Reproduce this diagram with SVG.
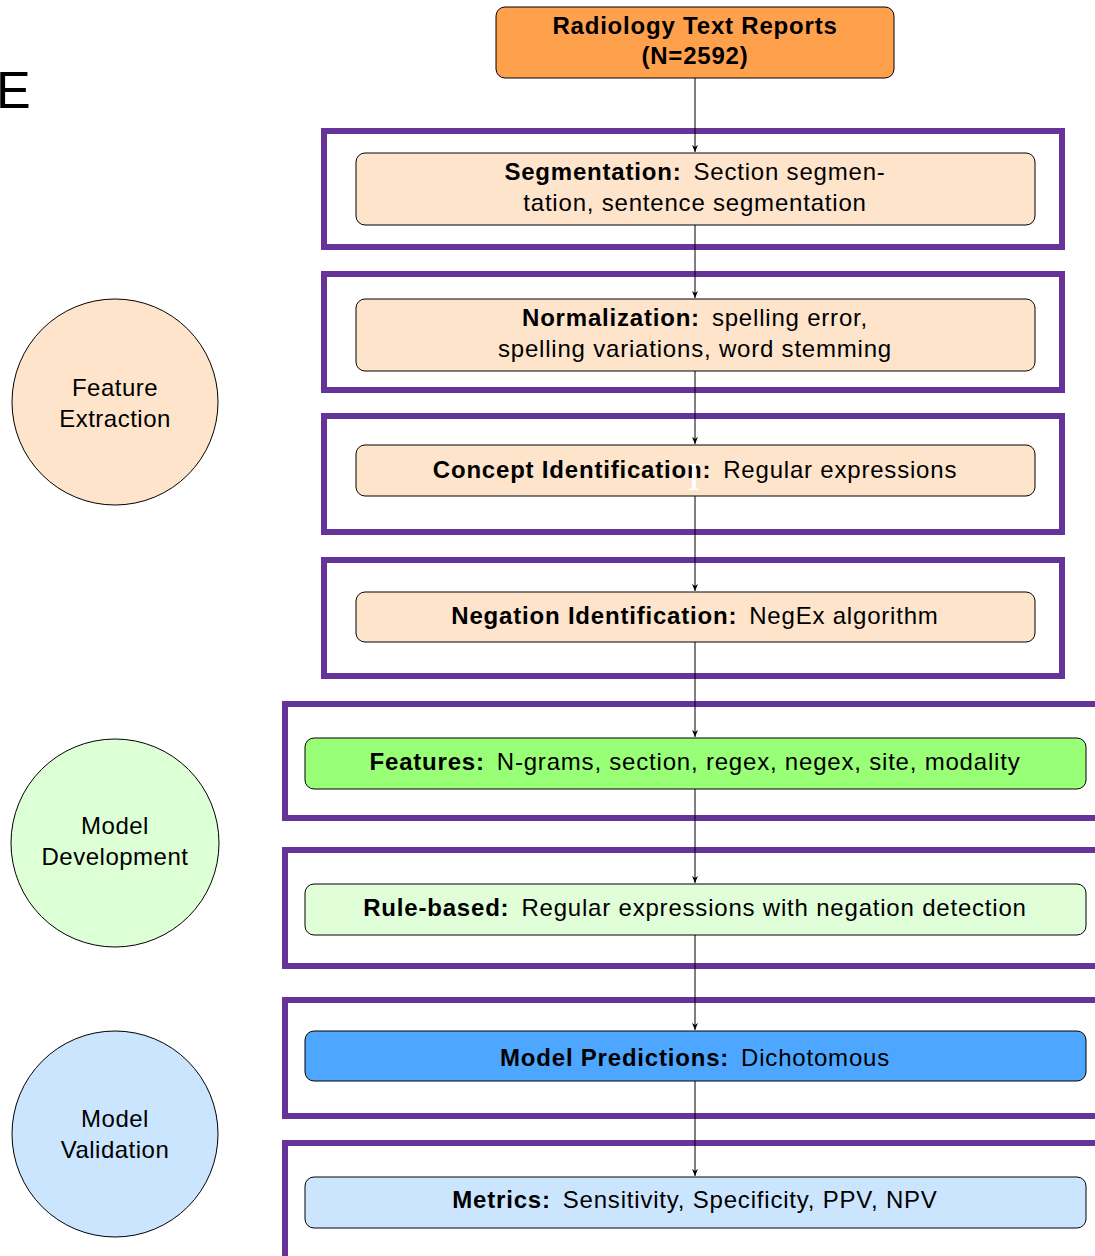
<svg xmlns="http://www.w3.org/2000/svg" width="1095" height="1256" viewBox="0 0 1095 1256">
<style>
text{font-family:"Liberation Sans",Arial,sans-serif;font-size:24px;fill:#000;text-anchor:middle;letter-spacing:0.8px}
.b{font-weight:bold}
.c{letter-spacing:0.5px}
.frame{fill:none;stroke:#663399;stroke-width:6}
.box{stroke:#000;stroke-width:1}
.circ{stroke:#000;stroke-width:1}
.conn{stroke:#000;stroke-width:1;fill:none}
</style>
<defs>
<marker id="arr" markerWidth="8" markerHeight="8" refX="7" refY="4" orient="auto" markerUnits="userSpaceOnUse">
<path d="M0,1 L7,4 L0,7 L2,4 Z" fill="#000"/>
</marker>
</defs>
<text x="-4" y="108" style="font-size:52px;text-anchor:start;letter-spacing:0">E</text>
<g id="frames">
<rect class="frame" x="324" y="131" width="738" height="116"/>
<rect class="frame" x="324" y="274" width="738" height="116"/>
<rect class="frame" x="324" y="416" width="738" height="116"/>
<rect class="frame" x="324" y="560" width="738" height="116"/>
<rect class="frame" x="285" y="704" width="900" height="114"/>
<rect class="frame" x="285" y="850" width="900" height="116"/>
<rect class="frame" x="285" y="1000" width="900" height="116"/>
<rect class="frame" x="285" y="1143" width="900" height="130"/>
</g>
<g id="connectors">
<line class="conn" x1="695" y1="78" x2="695" y2="152" marker-end="url(#arr)"/>
<line class="conn" x1="695" y1="225" x2="695" y2="298" marker-end="url(#arr)"/>
<line class="conn" x1="695" y1="371" x2="695" y2="444" marker-end="url(#arr)"/>
<line class="conn" x1="695" y1="496" x2="695" y2="591" marker-end="url(#arr)"/>
<line class="conn" x1="695" y1="642" x2="695" y2="737" marker-end="url(#arr)"/>
<line class="conn" x1="695" y1="789" x2="695" y2="883" marker-end="url(#arr)"/>
<line class="conn" x1="695" y1="935" x2="695" y2="1030" marker-end="url(#arr)"/>
<line class="conn" x1="695" y1="1081" x2="695" y2="1176" marker-end="url(#arr)"/>
</g>
<g id="reports">
<rect class="box" x="496" y="7" width="398" height="71" rx="9" fill="#FFA04D"/>
<text class="b" x="695" y="34">Radiology Text Reports</text>
<text class="b" x="695" y="64">(N=2592)</text>
</g>
<g id="segmentation">
<rect class="box" x="356" y="153" width="679" height="72" rx="9" fill="#FFE4CC"/>
<text x="695" y="180"><tspan class="b">Segmentation:</tspan><tspan dx="12">Section segmen-</tspan></text>
<text x="695" y="211">tation, sentence segmentation</text>
</g>
<g id="normalization">
<rect class="box" x="356" y="299" width="679" height="72" rx="9" fill="#FFE4CC"/>
<text x="695" y="326"><tspan class="b">Normalization:</tspan><tspan dx="12">spelling error,</tspan></text>
<text x="695" y="357">spelling variations, word stemming</text>
</g>
<g id="concept">
<rect class="box" x="356" y="445" width="679" height="51" rx="9" fill="#FFE4CC"/>
<text x="695" y="478"><tspan class="b">Concept Identification:</tspan><tspan dx="12">Regular expressions</tspan></text>
<text x="694" y="490" style="font-family:'Liberation Serif',serif;font-size:40px;fill:#fff;letter-spacing:0">I</text>
</g>
<g id="negation">
<rect class="box" x="356" y="592" width="679" height="50" rx="9" fill="#FFE4CC"/>
<text x="695" y="624"><tspan class="b">Negation Identification:</tspan><tspan dx="12">NegEx algorithm</tspan></text>
</g>
<g id="features">
<rect class="box" x="305" y="738" width="781" height="51" rx="9" fill="#99FF77"/>
<text x="695" y="770"><tspan class="b">Features:</tspan><tspan dx="12">N-grams, section, regex, negex, site, modality</tspan></text>
</g>
<g id="rulebased">
<rect class="box" x="305" y="884" width="781" height="51" rx="9" fill="#E0FFD9"/>
<text x="695" y="916"><tspan class="b">Rule-based:</tspan><tspan dx="12">Regular expressions with negation detection</tspan></text>
</g>
<g id="predictions">
<rect class="box" x="305" y="1031" width="781" height="50" rx="9" fill="#4DA6FF"/>
<text x="695" y="1066"><tspan class="b">Model Predictions:</tspan><tspan dx="12">Dichotomous</tspan></text>
</g>
<g id="metrics">
<rect class="box" x="305" y="1177" width="781" height="51" rx="9" fill="#CCE5FF"/>
<text x="695" y="1208"><tspan class="b">Metrics:</tspan><tspan dx="12">Sensitivity, Specificity, PPV, NPV</tspan></text>
</g>
<g id="feature-extraction">
<circle class="circ" cx="115" cy="402" r="103" fill="#FFE4CC"/>
<text class="c" x="115" y="396">Feature</text>
<text class="c" x="115" y="427">Extraction</text>
</g>
<g id="model-development">
<circle class="circ" cx="115" cy="843" r="104" fill="#DDFFD6"/>
<text class="c" x="115" y="834">Model</text>
<text class="c" x="115" y="865">Development</text>
</g>
<g id="model-validation">
<circle class="circ" cx="115" cy="1134" r="103" fill="#CCE5FF"/>
<text class="c" x="115" y="1127">Model</text>
<text class="c" x="115" y="1158">Validation</text>
</g>
</svg>
